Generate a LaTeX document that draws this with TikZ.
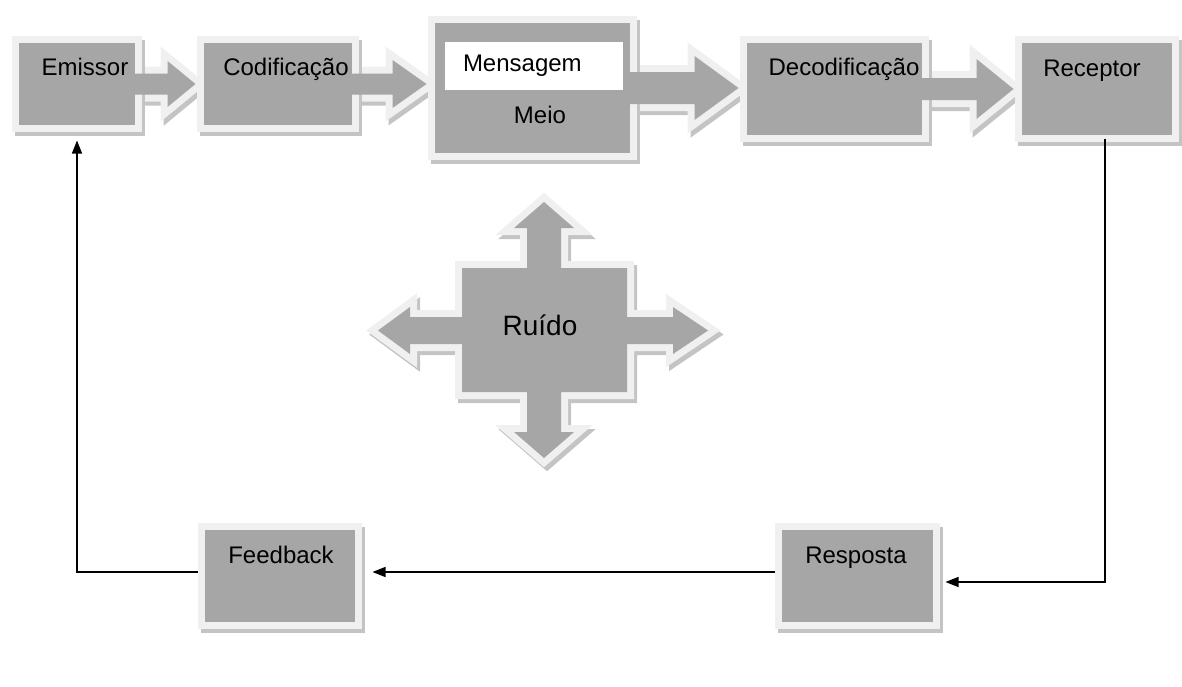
\documentclass[tikz,border=0pt]{standalone}
\usepackage{fontspec}
\setmainfont{Liberation Sans}
\usetikzlibrary{positioning,arrows.meta,calc}

\definecolor{boxgray}{HTML}{A6A6A6}
\definecolor{rimgray}{HTML}{F0F0F0}
\definecolor{shadegray}{HTML}{C4C4C4}

\pgfdeclarelayer{back}
\pgfsetlayers{back,main}

% fat arrow from one box to the next (shaft half, head half, head length)
\newcommand{\blockpath}[5]{%
  let \p1=(#1.east), \p2=(#2.west) in
  (\x1-10pt,\y1+#3pt) -- (\x2-5pt-#5pt,\y1+#3pt) -- (\x2-5pt-#5pt,\y1+#4pt)
  -- (\x2-5pt,\y1) -- (\x2-5pt-#5pt,\y1-#4pt) -- (\x2-5pt-#5pt,\y1-#3pt)
  -- (\x1-10pt,\y1-#3pt) -- cycle}

\begin{document}
\begin{tikzpicture}[
    x=1pt, y=-1pt,
    box/.style={rectangle, fill=boxgray, draw=rimgray, line width=7pt,
      inner sep=0pt, outer sep=0pt,
      preaction={fill=shadegray, draw=shadegray, line width=7pt,
        transform canvas={shift={(3pt,-4pt)}}}},
    lbl/.style={font=\fontsize{24}{28}\selectfont, anchor=base, inner sep=0pt},
    msgbox/.style={fill=white, minimum width=178pt, minimum height=48pt,
      text width=142pt, align=left, inner xsep=17pt, inner ysep=0pt,
      font=\fontsize{24}{28}\selectfont},
    rim/.style={fill=rimgray, draw=rimgray, line width=14pt, line join=miter},
    dropsh/.style={fill=shadegray, draw=shadegray, line width=14pt, line join=miter,
      transform canvas={shift={(3pt,-4pt)}}},
    link/.style={line width=1.3pt, -{Triangle[length=13pt,width=10pt]}}
]
\useasboundingbox (0,0) rectangle (1182,686);

% top row
\node[box, minimum width=123pt, minimum height=89pt] (emissor) at (77,84) {};
\node[box, minimum width=155pt, minimum height=89pt] (codif) at (278,84) {};
\node[box, minimum width=202pt, minimum height=137pt] (meio) at (532.5,88) {};
\node[box, minimum width=182pt, minimum height=99pt] (decod) at (834.5,89) {};
\node[box, minimum width=157pt, minimum height=99pt] (receptor) at (1097,89) {};

% bottom row
\node[box, minimum width=157pt, minimum height=99pt] (feedback) at (280,576) {};
\node[box, minimum width=158pt, minimum height=99pt] (resposta) at (857.5,576) {};

% fat arrows
\begin{pgfonlayer}{back}
\foreach \src/\dst/\sh/\hh/\hl in {emissor/codif/10.5/23/28, codif/meio/10.5/24/34,
    meio/decod/16/32/44, decod/receptor/11/30/37}{
  \path[dropsh] \blockpath{\src}{\dst}{\sh}{\hh}{\hl};
  \path[rim] \blockpath{\src}{\dst}{\sh}{\hh}{\hl};
}
\end{pgfonlayer}
\foreach \src/\dst/\sh/\hh/\hl in {emissor/codif/10.5/23/28, codif/meio/10.5/24/34,
    meio/decod/16/32/44, decod/receptor/11/30/37}{
  \path[fill=boxgray] \blockpath{\src}{\dst}{\sh}{\hh}{\hl};
}

\node[msgbox] (mensagem) at (534,66) {Mensagem};

\node[lbl] (emissor-l) at (85,75) {Emissor};
\node[lbl] (codif-l) at (286,75) {Codificação};
\node[lbl] (meio-l) at (540,123) {Meio};
\node[lbl] (decod-l) at (844,75) {Decodificação};
\node[lbl] (receptor-l) at (1092,76) {Receptor};
\node[lbl] (feedback-l) at (281,563) {Feedback};
\node[lbl] (resposta-l) at (856,563) {Resposta};

% noise cross
\def\crosspath{(544,202) -- (574,228) -- (561,228) -- (561,268) -- (627,268)
  -- (627,317) -- (673,317) -- (673,307) -- (708,330.5) -- (673,354)
  -- (673,344) -- (627,344) -- (627,392) -- (561,392) -- (561,432)
  -- (574,432) -- (544,458) -- (514,432) -- (527,432) -- (527,392)
  -- (462,392) -- (462,344) -- (410,344) -- (410,354) -- (378,330.5)
  -- (410,307) -- (410,317) -- (462,317) -- (462,268) -- (527,268)
  -- (527,228) -- (514,228) -- cycle}
\path[dropsh] \crosspath;
\path[rim] \crosspath;
\path[fill=boxgray] \crosspath;
\node[lbl, font=\fontsize{28}{33}\selectfont] (ruido) at (540,335) {Ruído};

% feedback loop
\draw[link] ($(receptor.south)+(8,0)$) |- ($(resposta.east)+(9,6)$);
\draw[link] ($(resposta.west)+(-4,-4)$) -- ($(feedback.east)+(14,-4)$);
\draw[link] ($(feedback.west)+(-4,-4)$) -| ($(emissor.south)+(0,12)$);

\end{tikzpicture}
\end{document}
